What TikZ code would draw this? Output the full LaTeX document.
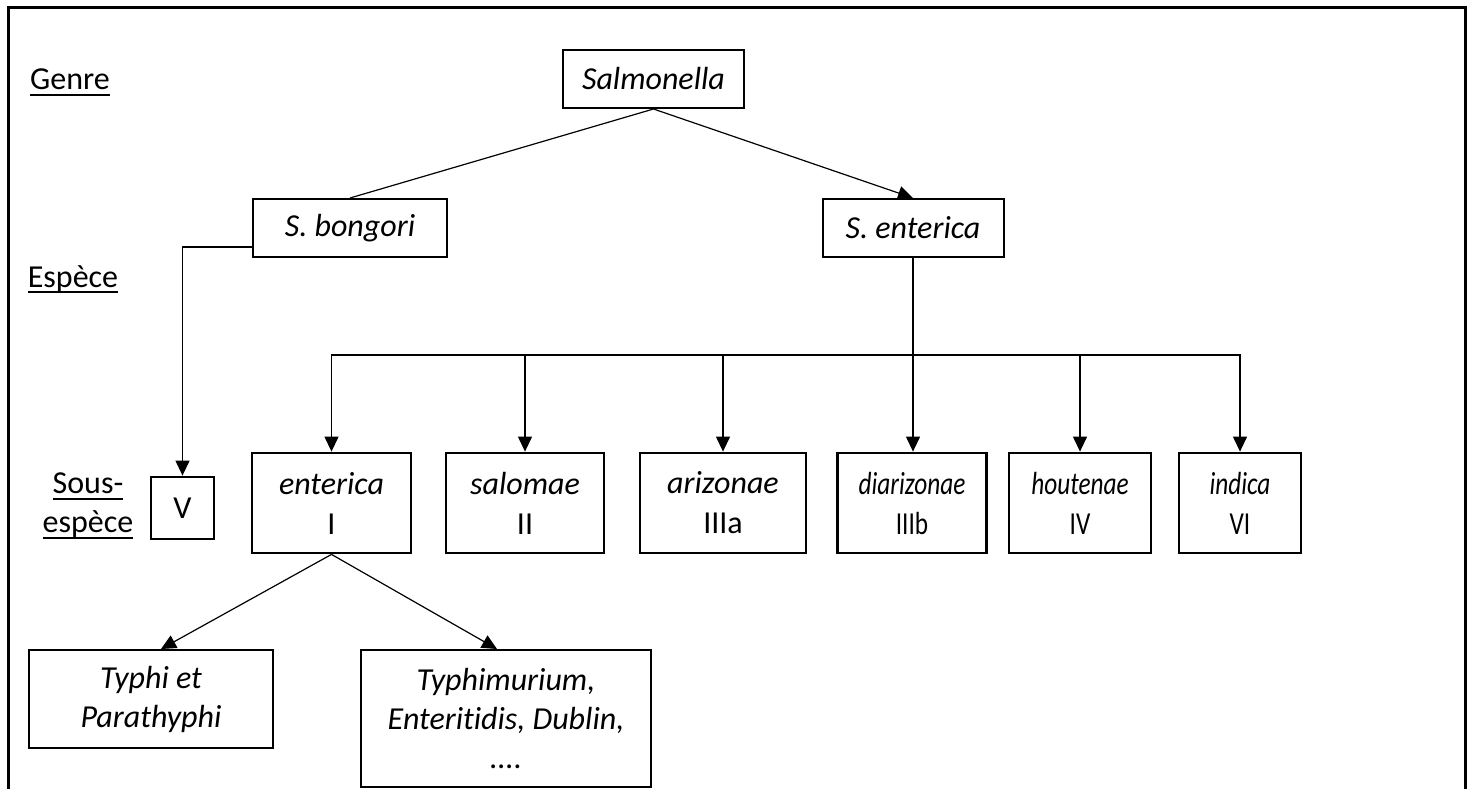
\documentclass[tikz,border=0pt]{standalone}
\usepackage{fontspec}
\setmainfont[Ligatures = NoCommon]{Carlito}
\newfontfamily\condfont[Ligatures = NoCommon, FakeStretch = 0.79]{Carlito}
\usepackage{tikz}
\usetikzlibrary{arrows.meta}
\usetikzlibrary{positioning}
\tikzset{>={Triangle[length = 15pt, width = 14pt]}}
\tikzstyle{taxon} = [rectangle, draw = black, line width = 2pt, inner sep = 0, align = center, font = \fontsize{32}{40}\selectfont]
\tikzstyle{subsp} = [taxon, line width = 2.8pt]
\tikzstyle{subspcond} = [subsp, font = \fontsize{32}{40}\condfont]
\tikzstyle{serovar} = [taxon, font = \fontsize{32}{39}\selectfont\itshape]
\tikzstyle{rank} = [draw = none, inner sep = 0, align = center, font = \fontsize{32}{39}\selectfont]
\tikzstyle{link} = [-, line width = 1.2pt]
\newcommand{\rankline}[1]{\setbox0\hbox{#1}\rlap{\rule[-6pt]{\wd0}{2pt}}\box0}

\begin{document}
\begin{tikzpicture}[x = 1pt, y = -1pt]
\useasboundingbox (0, 0) rectangle (1474, 789);
\draw [line width = 3pt] (8, 789) -- (8, 8) -- (1465, 8) -- (1465, 789);

% rangs
\node [rank, anchor = base] (genre) at (70, 90) {\rankline{Genre}};
\node [rank, anchor = base] (espece) at (73, 287) {\rankline{Espèce}};
\node [rank] (sousesp) at (88, 506) {\rankline{Sous-}\\\rankline{espèce}};

% genre et especes
\node [taxon, minimum width = 181pt, minimum height = 58pt] (salm) at (653.5, 79) {\textit{Salmonella}};
\node [taxon, minimum width = 194pt, minimum height = 58pt] (bong) at (350, 228) {\textit{S. bongori}};
\node [taxon, minimum width = 181pt, minimum height = 58pt] (sent) at (913, 228) {\textit{S. enterica}};

% sous-especes
\node [subsp, minimum width = 63pt, minimum height = 62pt] (V) at (182.5, 508) {V};
\node [subsp, minimum width = 159pt, minimum height = 100pt] (ent) at (331.5, 503) {\textit{enterica}\\I};
\node [subsp, minimum width = 158pt, minimum height = 100pt] (sal) at (525, 503) {\textit{salomae}\\II};
\node [subsp, minimum width = 166pt, minimum height = 100pt] (ariz) at (723, 503) {\textit{arizonae}\\IIIa};
\node [subspcond, minimum width = 149pt, minimum height = 100pt] (diar) at (912, 503) {\textit{diarizonae}\\IIIb};
\node [subspcond, minimum width = 142pt, minimum height = 100pt] (hout) at (1080, 503) {\textit{houtenae}\\IV};
\node [subspcond, minimum width = 122pt, minimum height = 100pt] (ind) at (1240, 503) {\textit{indica}\\VI};

% serovars
\node [serovar, minimum width = 244pt, minimum height = 98pt] (typh) at (151, 699) {Typhi et\\Parathyphi};
\node [serovar, minimum width = 290pt, minimum height = 137pt] (tym) at (506, 718.5) {Typhimurium,\\Enteritidis, Dublin,\\....};

\coordinate (bus) at (0, 355);

\draw [link] (salm.south) -- (bong.north);
\draw [link, ->] (salm.south) -- (sent.north);
\draw [link, ->] ([yshift = -19pt]bong.west) -| (V.north);
\draw [link, ->] (sent.south) -- (sent.south |- diar.north);
\foreach \sub in {ent, sal, ariz, hout, ind}
  \draw [link, ->] (sent.south |- bus) -| (\sub.north);
\draw [link, ->] (ent.south) -- ([xshift = 10pt]typh.north);
\draw [link, ->] (ent.south) -- ([xshift = -9pt]tym.north);
\end{tikzpicture}
\end{document}
